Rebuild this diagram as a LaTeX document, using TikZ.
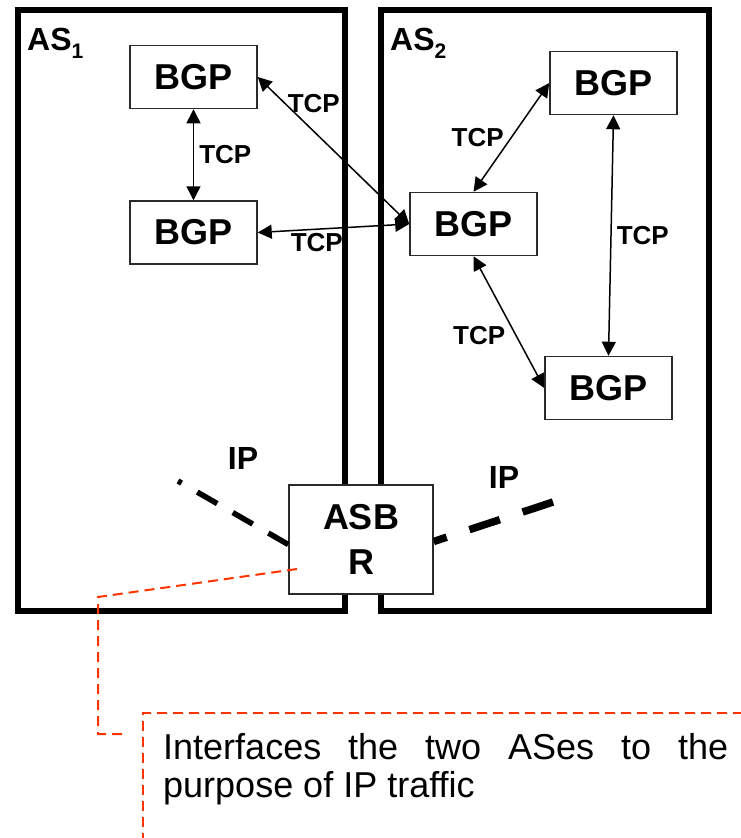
\documentclass[tikz,border=0pt]{standalone}
\usepackage{fontspec}
\setmainfont{Liberation Sans}
\usepackage{tikz}
\usetikzlibrary{arrows.meta,positioning}
\definecolor{ink}{HTML}{000000}
\definecolor{edge}{HTML}{2A2A2A}
\definecolor{notec}{HTML}{FF3300}
\newcommand{\assub}[1]{\raisebox{-8pt}{\fontsize{21}{21}\selectfont #1}}
\tikzset{
  asbox/.style={draw=ink,line width=6pt,inner sep=0pt},
  bgp/.style={draw=edge,fill=white,line width=1.5pt,minimum width=127pt,minimum height=63pt,
    inner sep=0pt,font=\fontsize{36}{43}\selectfont\bfseries,text=ink},
  asbr/.style={bgp,minimum width=144pt,minimum height=109pt,align=center,
    font=\fontsize{36}{45}\selectfont\bfseries},
  astag/.style={anchor=base west,inner sep=0pt,font=\fontsize{32}{38}\selectfont\bfseries},
  lbl/.style={inner sep=2pt,font=\fontsize{26}{30}\selectfont\bfseries,text=ink},
  iplbl/.style={inner sep=0pt,font=\fontsize{32}{38}\selectfont\bfseries,text=ink},
  link/.style={{Triangle[length=14pt,width=14pt]}-{Triangle[length=14pt,width=14pt]},
    line width=1.5pt,color=ink},
  ipthin/.style={line width=5.5pt,dash pattern=on 23pt off 18pt,color=ink},
  ipthick/.style={line width=7.5pt,dash pattern=on 32pt off 24pt,color=ink},
  callout/.style={draw=notec,line width=2pt,dash pattern=on 10pt off 6pt},
  notetext/.style={inner sep=0pt,text width=565pt,align=justify,
    font=\fontsize{36}{38}\selectfont,text=ink,
    execute at begin node={\hyphenpenalty=10000 \tolerance=10000 }}
}

\begin{document}
\begin{tikzpicture}[x=1pt,y=-1pt]
  \clip (0,0) rectangle (741,838);
  \fill[white] (0,0) rectangle (741,838);
  % autonomous systems
  \node[asbox,minimum width=327pt,minimum height=601pt] (as1) at (181.5,310.5) {};
  \node[asbox,minimum width=328pt,minimum height=601pt] (as2) at (545,310.5) {};
  \node[astag] (as1tag) at (27,50) {AS\assub{1}};
  \node[astag] (as2tag) at (390,50) {AS\assub{2}};
  % border router and IP links
  \coordinate (ipl) at (178,481);
  \coordinate (ipr) at (553,502);
  \node[asbr] (asbr) at (361,539.5) {ASB\\R};
  \draw[ipthin] ([yshift=-5pt]asbr.west) -- (ipl);
  \draw[ipthick] (ipr) -- ([yshift=-2pt]asbr.east);
  \node[iplbl] (ip1) at (243,458) {IP};
  \node[iplbl] (ip2) at (504,477) {IP};
  % BGP speakers
  \node[bgp] (b1) at (193.5,77) {BGP};
  \node[bgp,below=91pt of b1] (b2) {BGP};
  \node[bgp] (b3) at (473.5,224) {BGP};
  \node[bgp] (b4) at (613.5,83) {BGP};
  \node[bgp] (b5) at (608.5,388) {BGP};
  % TCP sessions
  \draw[link] (b1.south) -- node[lbl,midway,right=3pt]{TCP} (b2.north);
  \draw[link] (b1.east) -- node[lbl,pos=0.18,anchor=west]{TCP} (b3.west);
  \draw[link] (b2.east) -- node[lbl,pos=0.2,anchor=north west]{TCP} (b3.west);
  \draw[link] (b3.north) -- node[lbl,midway,left=5pt]{TCP} (b4.west);
  \draw[link] (b4.south) -- node[lbl,midway,right=3pt]{TCP} (b5.north);
  \draw[link] (b3.south) -- node[lbl,pos=0.6,left=8pt]{TCP} (b5.west);
  % callout
  \node[callout,minimum width=660pt,minimum height=160pt,anchor=north west] (note) at (142,712) {};
  \node[notetext,anchor=north west] (notetxt) at (163,733)
    {Interfaces the two ASes to the purpose of IP traffic};
  \coordinate (grip) at (297,569);
  \coordinate (knee) at (98,597);
  \coordinate (tail) at (126,734);
  \draw[callout] (grip) -- (knee) |- (tail);
\end{tikzpicture}
\end{document}
